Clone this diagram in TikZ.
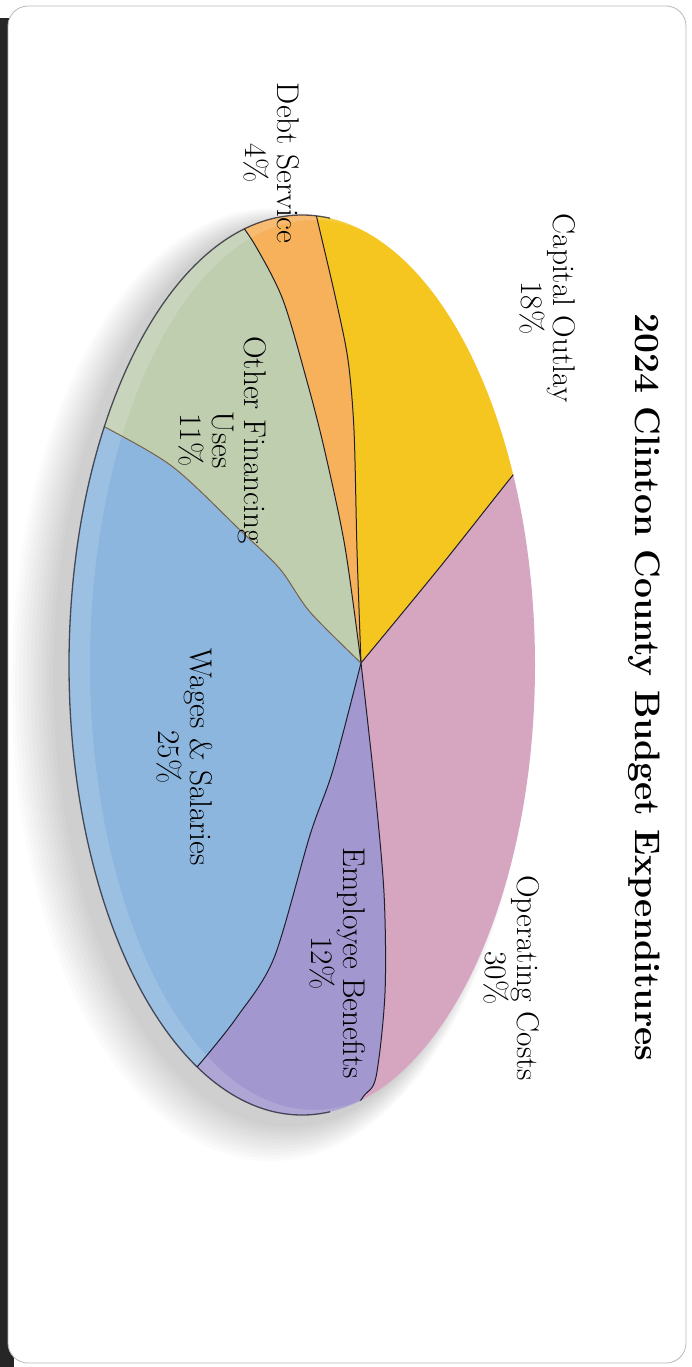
\documentclass[tikz,border=0pt]{standalone}
\definecolor{capcol}{RGB}{245,197,32}
\definecolor{opcol}{RGB}{214,166,192}
\definecolor{empcol}{RGB}{162,152,207}
\definecolor{wagcol}{RGB}{140,182,222}
\definecolor{othcol}{RGB}{192,206,176}
\definecolor{debcol}{RGB}{246,177,90}
\definecolor{edgecol}{RGB}{30,30,45}
\tikzset{
  lbl/.style={rotate=-90, align=center, inner sep=0pt, font=\fontsize{31.4}{32}\selectfont},
  ttl/.style={rotate=-90, anchor=base, inner sep=0pt, font=\bfseries\fontsize{35.4}{40}\selectfont},
  bnd/.style={edgecol, line width=1pt},
  bndsoft/.style={black!40!brown!60!gray, line width=1pt}
}
\def\bAf{(361,663) (440,567) (513,475) (560,418)}
\def\bAr{(560,418) (513,475) (440,567) (361,663)}
\def\bBf{(361,663) (357,550) (354,430) (348,360) (336,300) (319,227) (308,180)}
\def\bBr{(308,180) (319,227) (336,300) (348,360) (354,430) (357,550) (361,663)}
\def\bCf{(361,663) (345,547) (325,452) (308,385) (283,300) (255,245) (232,212)}
\def\bCr{(232,212) (255,245) (283,300) (308,385) (325,452) (345,547) (361,663)}
\def\bDf{(361,663) (310,612) (280,569) (240,530) (173,467) (105,427) (55,402)}
\def\bDr{(55,402) (105,427) (173,467) (240,530) (280,569) (310,612) (361,663)}
\def\bEf{(361,663) (333,770) (310,835) (274,958) (237,1017) (203,1060) (175,1092)}
\def\bEr{(175,1092) (203,1060) (237,1017) (274,958) (310,835) (333,770) (361,663)}
\def\bFf{(361,663) (374,780) (384,893) (385,993) (376,1077) (363,1097) (345,1125)}
\def\bFr{(345,1125) (363,1097) (376,1077) (385,993) (384,893) (374,780) (361,663)}
\begin{document}
\begin{tikzpicture}[x=1pt,y=-1pt]
\useasboundingbox (0,0) rectangle (692,1367);
\fill[white] (0,0) rectangle (692,1367);
% scanner edge and frame
\fill[black!85] (0,18) rectangle (14,1367);
\draw[fill=white, draw=gray!55, line width=0.8pt, rounded corners=20pt] (8,6) rectangle (686,1363);
% soft shadow
\foreach \i in {1,...,12}{
  \fill[black, opacity=0.015] ({290-\i*1.6},{674+\i*0.9}) ellipse [x radius={233pt+\i*2.2pt}, y radius={450pt+\i*2.2pt}];
}
% pie
\begin{scope}
  \clip (302,665) ellipse [x radius=233pt, y radius=450pt];
  \fill[capcol] plot[smooth] coordinates {\bAf} -- (700,418) -- (700,40) -- (308,40) -- plot[smooth] coordinates {\bBr} -- cycle;
  \fill[opcol] plot[smooth] coordinates {\bFf} -- (345,1320) -- (700,1320) -- (700,418) -- plot[smooth] coordinates {\bAr} -- cycle;
  \fill[empcol] plot[smooth] coordinates {\bEf} -- (175,1320) -- (345,1320) -- plot[smooth] coordinates {\bFr} -- cycle;
  \fill[wagcol] plot[smooth] coordinates {\bDf} -- (0,402) -- (0,1320) -- (175,1320) -- plot[smooth] coordinates {\bEr} -- cycle;
  \fill[othcol] plot[smooth] coordinates {\bCf} -- (232,40) -- (0,40) -- (0,402) -- plot[smooth] coordinates {\bDr} -- cycle;
  \fill[debcol] plot[smooth] coordinates {\bBf} -- (308,40) -- (232,40) -- plot[smooth] coordinates {\bCr} -- cycle;
  % light band near the rim
  \fill[white, opacity=0.14, even odd rule] (302,665) ellipse [x radius=233pt, y radius=450pt] (314,665) ellipse [x radius=224pt, y radius=445pt];
  % slice boundaries
  \draw[bnd] plot[smooth] coordinates {\bAf};
  \draw[bnd] plot[smooth] coordinates {\bBf};
  \draw[bnd] plot[smooth] coordinates {\bCf};
  \draw[bndsoft] plot[smooth] coordinates {\bDf};
  \draw[bnd] plot[smooth] coordinates {\bEf};
  \draw[bnd] plot[smooth] coordinates {\bFf};
\end{scope}
% dark rim on the left side
\begin{scope}
  \clip (0,0) rectangle (330,1367);
  \draw[edgecol, opacity=0.75, line width=1.3pt] (302,665) ellipse [x radius=233pt, y radius=450pt];
\end{scope}
% labels
\node[ttl] (title) at (635,687.5) {2024 Clinton County Budget Expenditures};
\node[lbl] (cap) at (548,308) {Capital Outlay\\18\%};
\node[lbl] (deb) at (272,163) {Debt Service\\4\%};
\node[lbl] (oth) at (223,440) {Other Financing\\Uses\\11\%};
\node[lbl] (wag) at (185,757) {Wages \& Salaries\\25\%};
\node[lbl] (emp) at (338,963) {Employee Benefits\\12\%};
\node[lbl] (ope) at (512,978) {Operating Costs\\30\%};
\end{tikzpicture}
\end{document}
